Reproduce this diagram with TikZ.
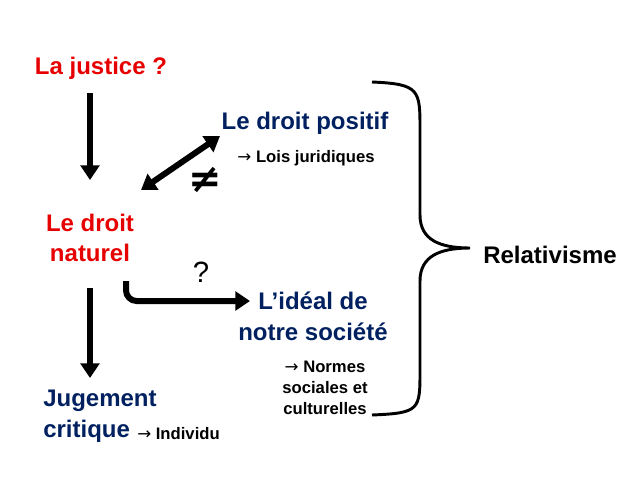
\documentclass[tikz,border=0pt]{standalone}
\usepackage{fontspec}
\setmainfont{Liberation Sans}
\newfontfamily\djv{DejaVu Sans}
\usetikzlibrary{arrows.meta}
\definecolor{jred}{RGB}{230,0,0}
\definecolor{jblue}{RGB}{0,32,96}
\begin{document}
\begin{tikzpicture}[x=0.75pt,y=-0.75pt,
  big/.style={font=\bfseries\fontsize{18}{23}\selectfont,align=center,inner sep=0pt},
  small/.style={font=\bfseries\fontsize{12.5}{15.5}\selectfont,align=center,inner sep=0pt},
  arr/.style={line width=4.5pt,-{Triangle[length=11pt,width=14pt]}},
  darr/.style={line width=4.5pt,{Triangle[length=11pt,width=14pt]}-{Triangle[length=11pt,width=14pt]}}]
\useasboundingbox (0,0) rectangle (638,479);
\node[big,text=jred] (just) at (101,68) {La justice ?};
\node[big,text=jred] (nat) at (90,238) {Le droit\\naturel};
\node[big,text=jblue] (pos) at (305,123) {Le droit positif};
\node[small] (lois) at (306,158) {{\djv\mdseries →} Lois juridiques};
\node[font=\bfseries\fontsize{30}{32}\selectfont,inner sep=0pt] (neq) at (205,180) {{\djv ≠}};
\node[font=\fontsize{22}{24}\selectfont,inner sep=0pt] (q) at (201,272) {?};
\node[big,text=jblue] (ideal) at (313,316) {L’idéal de\\notre société};
\node[small] (norm) at (325,388) {{\djv\mdseries →} Normes\\sociales et\\culturelles};
\node[big,text=jblue,align=left,anchor=west] (jug) at (43,416) {Jugement\\critique};
\node[small,anchor=base west] (ind) at (137,439) {{\djv\mdseries →} Individu};
\node[big] (rel) at (550,255) {Relativisme};
\coordinate (a1s) at (90,93); \coordinate (a1e) at (90,180);
\draw[arr] (a1s) -- (a1e);
\coordinate (a2s) at (90,288); \coordinate (a2e) at (90,378);
\draw[arr] (a2s) -- (a2e);
\coordinate (d1) at (141,190); \coordinate (d2) at (220,136);
\draw[darr] (d1) -- (d2);
\coordinate (e1) at (126,281); \coordinate (e2) at (126,301); \coordinate (e3) at (250,301);
\draw[arr,rounded corners=8pt] (e1) -- (e2) -- (e3);
\coordinate (b1) at (372,82); \coordinate (b2) at (372,415); \coordinate (bt) at (470,248);
\draw[line width=2.2pt] (b1) .. controls (420,84) and (420,90) .. (420,130)
  -- (420,215) .. controls (420,240) and (440,248) .. (bt)
  .. controls (440,248) and (420,256) .. (420,281)
  -- (420,370) .. controls (420,410) and (420,413) .. (b2);
\end{tikzpicture}
\end{document}
